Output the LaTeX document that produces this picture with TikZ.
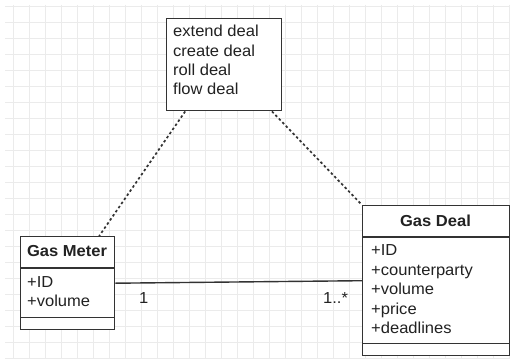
\documentclass[tikz,border=0pt]{standalone}
\usepackage{fontspec}
\setmainfont[FakeStretch=1.04]{Liberation Sans}
\usetikzlibrary{calc}
\definecolor{edge}{HTML}{333333}
\definecolor{ink}{HTML}{222222}
\definecolor{gridc}{HTML}{EBEBEB}
\begin{document}
\begin{tikzpicture}[x=1pt,y=-1pt,
  umlbox/.style={draw=edge, line width=1.4pt, fill=white, inner sep=0pt, anchor=north west},
  txt/.style={anchor=base west, inner sep=0pt, text=ink, font=\fontsize{15.9}{19.5}\selectfont},
  ttl/.style={anchor=base, inner sep=0pt, text=ink, font=\bfseries\fontsize{15.9}{19.5}\selectfont},
  divider/.style={draw=edge, line width=1.4pt},
  assoc/.style={draw=edge, line width=1.4pt},
  noteline/.style={draw=edge, line width=1.7pt, dash pattern=on 2.5pt off 2.5pt}]
\useasboundingbox (0,0) rectangle (510,358);
\fill[white] (0,0) rectangle (510,358);
% background grid
\foreach \i in {0,...,31} \draw[gridc, line width=0.8pt] (13+16*\i,5) -- (13+16*\i,358);
\foreach \j in {0,...,22} \draw[gridc, line width=0.8pt] (5,6+16*\j) -- (510,6+16*\j);

% note with the deal operations
\node[umlbox, minimum width=115pt, minimum height=92pt] (note) at (166,18) {};
\node[txt] (op1) at (173,37) {extend deal};
\node[txt] (op2) at (173,56.3) {create deal};
\node[txt] (op3) at (173,75.6) {roll deal};
\node[txt] (op4) at (173,95) {flow deal};

% class Gas Meter
\node[umlbox, minimum width=94pt, minimum height=93pt] (meter) at (20,236) {};
\draw[divider] (20,268) -- (114,268);
\draw[divider] (20,317.5) -- (114,317.5);
\node[ttl] (meterT) at (67,256.5) {Gas Meter};
\node[txt] (meterA1) at (27,287.5) {+ID};
\node[txt] (meterA2) at (27,306.5) {+volume};

% class Gas Deal
\node[umlbox, minimum width=147pt, minimum height=150pt] (deal) at (362,205) {};
\draw[divider] (362,237) -- (509,237);
\draw[divider] (362,343.5) -- (509,343.5);
\node[ttl] (dealT) at (435.5,226) {Gas Deal};
\node[txt] (dealA1) at (371,255.5) {+ID};
\node[txt] (dealA2) at (371,275) {+counterparty};
\node[txt] (dealA3) at (371,294.5) {+volume};
\node[txt] (dealA4) at (371,314) {+price};
\node[txt] (dealA5) at (371,333.5) {+deadlines};

% association and multiplicities
\draw[assoc] (meter.east) -- (deal.west);
\node[txt] (m1) at (139,303) {1};
\node[txt] (m2) at (323,303) {1..*};

% note anchors
\draw[noteline] ($(note.south west)!0.165!(note.south east)$) -- ($(meter.north west)!0.83!(meter.north east)$);
\draw[noteline] ($(note.south west)!0.91!(note.south east)$) -- (deal.north west);
\end{tikzpicture}
\end{document}
